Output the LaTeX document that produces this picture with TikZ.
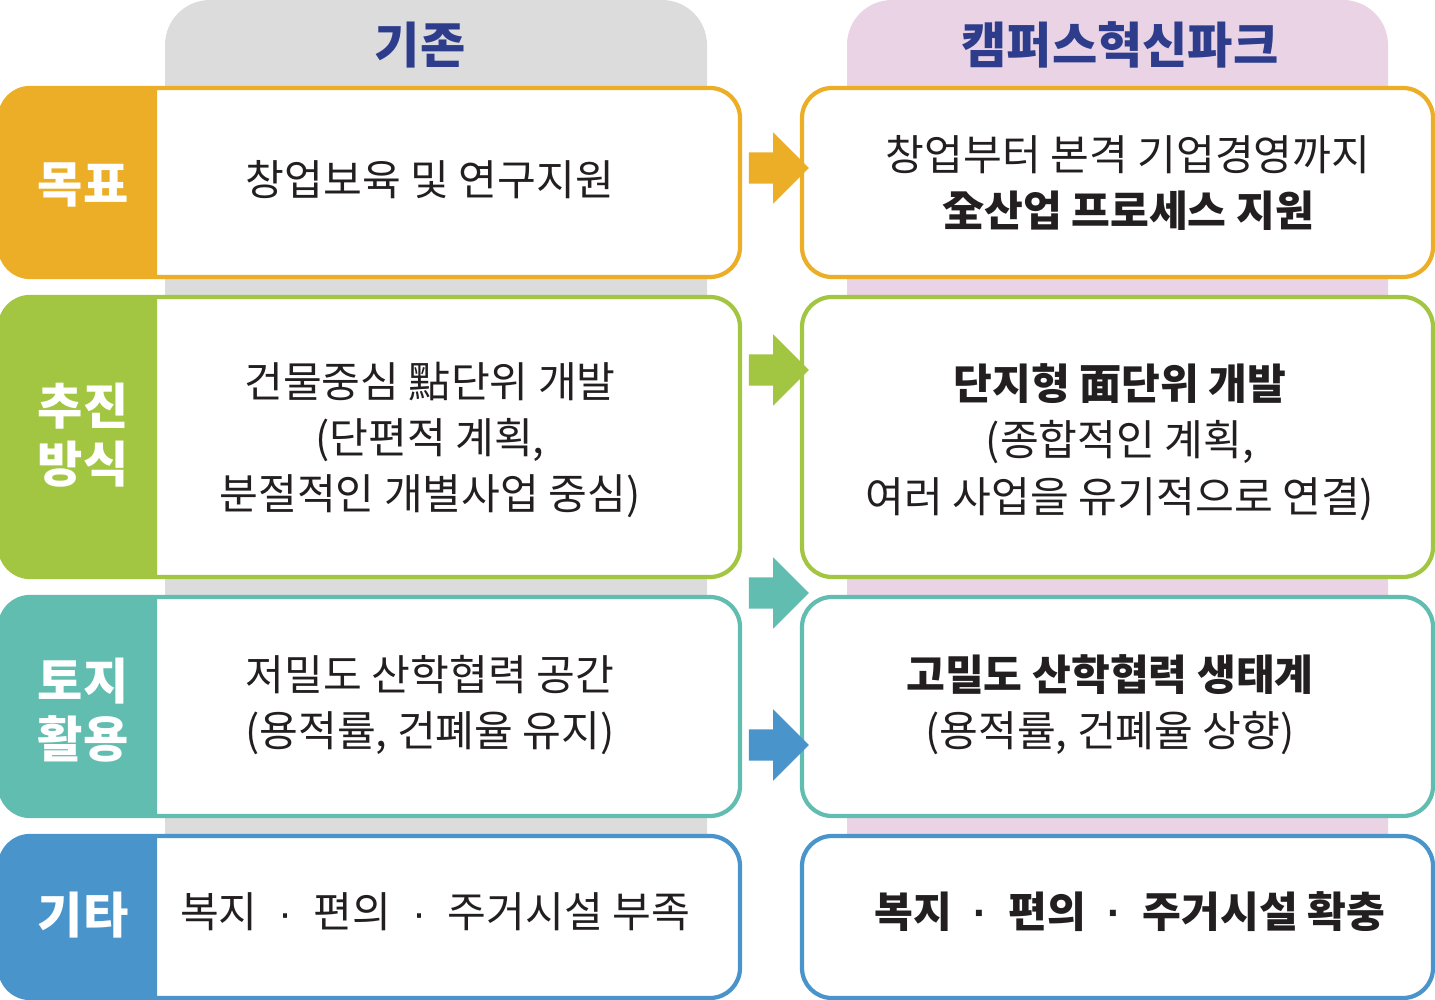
\documentclass[tikz,border=0pt]{standalone}
\usepackage{fontspec}
\setmainfont{Noto Sans CJK KR}
\newfontfamily\latf{Liberation Sans}
\newcommand{\md}{\enspace{\latf ·}\enspace}
\usetikzlibrary{shapes.arrows}
\definecolor{goalc}{HTML}{EBAE26}
\definecolor{wayc}{HTML}{A2C542}
\definecolor{landc}{HTML}{62BDB1}
\definecolor{etcc}{HTML}{4A94CC}
\definecolor{oldbg}{HTML}{DCDCDC}
\definecolor{newbg}{HTML}{E9D3E5}
\definecolor{headc}{HTML}{2E3C8C}
\definecolor{txtc}{HTML}{231F20}
\tikzset{
	box/.style={draw=#1, line width=1.2pt, fill=white, rounded corners=0.3cm},
	tag/.style={text=white, font=\fontsize{14}{16.5}\selectfont\bfseries, align=center},
	txt/.style={text=txtc, font=\fontsize{12}{16}\selectfont, align=center},
	head/.style={text=headc, font=\fontsize{14}{18}\selectfont\bfseries},
	blk/.style={single arrow, fill=#1, draw=none, minimum height=0.6cm,
		single arrow head extend=0.2cm, inner sep=0.15cm, minimum width=0.7cm}
}
\begin{document}
\begin{tikzpicture}[x=1cm,y=1cm]
	\useasboundingbox (0,0) rectangle (14.35,-10);
	% columns
	\fill[oldbg, rounded corners=0.45cm] (1.65,-8.35) -- (1.65,0) -- (7.07,0) [sharp corners] -- (7.07,-8.35) -- cycle;
	\fill[newbg, rounded corners=0.45cm] (8.47,-8.35) -- (8.47,0) -- (13.88,0) [sharp corners] -- (13.88,-8.35) -- cycle;
	\node[head] (oldhead) at (4.2,-0.45) {기존};
	\node[head] (newhead) at (11.2,-0.45) {캠퍼스혁신파크};

	% boxes
	\foreach \nm/\c/\t/\b in {goal/goalc/0.88/2.77, way/wayc/2.97/5.77, land/landc/5.97/8.16, etc/etcc/8.36/9.98}{
		\draw[box=\c] (0,-\t) rectangle (7.40,-\b);
		\fill[\c] (1.57,-\t) [rounded corners=0.3cm] -- (0,-\t) -- (0,-\b) [sharp corners] -- (1.57,-\b) -- cycle;
		\draw[box=\c] (8.02,-\t) rectangle (14.33,-\b);
	}

	\node[tag] (goaltag) at (0.83,-1.85) {목표};
	\node[tag] (waytag) at (0.83,-4.35) {추진\\방식};
	\node[tag] (landtag) at (0.83,-7.1) {토지\\활용};
	\node[tag] (etctag) at (0.83,-9.15) {기타};

	\node[txt] (goalold) at (4.3,-1.8) {창업보육 및 연구지원};
	\node[txt] (wayold) at (4.3,-4.4) {건물중심 點단위 개발\\(단편적 계획,\\분절적인 개별사업 중심)};
	\node[txt] (landold) at (4.3,-7.05) {저밀도 산학협력 공간\\(용적률, 건폐율 유지)};
	\node[txt] (etcold) at (4.35,-9.12) {복지\md 편의\md 주거시설 부족};

	\node[txt] (goalnew) at (11.28,-1.83) {창업부터 본격 기업경영까지\\\bfseries 全산업 프로세스 지원};
	\node[txt] (waynew) at (11.2,-4.42) {\bfseries 단지형 面단위 개발\\(종합적인 계획,\\여러 사업을 유기적으로 연결)};
	\node[txt] (landnew) at (11.1,-7.05) {\bfseries 고밀도 산학협력 생태계\\(용적률, 건폐율 상향)};
	\node[txt, font=\fontsize{12}{16}\selectfont\bfseries] (etcnew) at (11.3,-9.12) {복지\md 편의\md 주거시설 확충};

	% arrows
	\node[blk=goalc] (a1) at (7.71,-1.68) {};
	\node[blk=wayc] (a2) at (7.71,-3.70) {};
	\node[blk=landc] (a3) at (7.71,-5.93) {};
	\node[blk=etcc] (a4) at (7.71,-7.45) {};
\end{tikzpicture}
\end{document}
